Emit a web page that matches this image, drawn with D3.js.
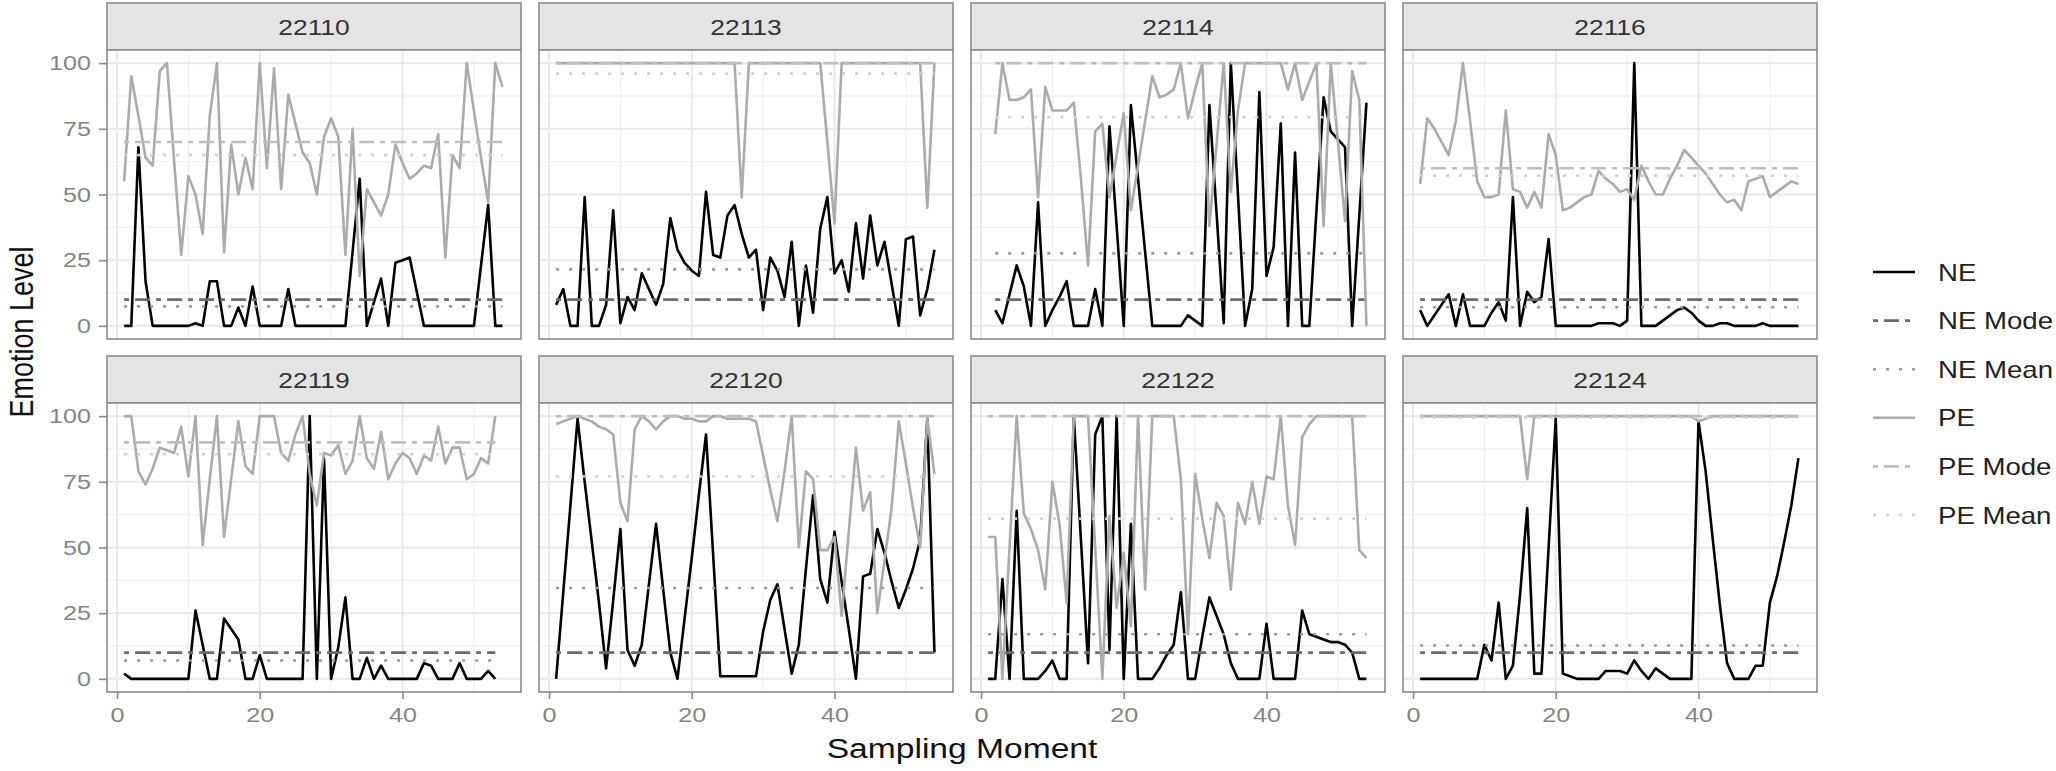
<!DOCTYPE html>
<html>
<head>
<meta charset="utf-8">
<script src="https://cdn.jsdelivr.net/npm/d3@7"></script>
<style>
  body { margin: 0; background: #fff; }
  text { font-family: "Liberation Sans", Arial, sans-serif; }
</style>
</head>
<body>
<script>
// facets (participants)
let participants = ["22110", "22113", "22114", "22116", "22119", "22120", "22122", "22124"];
let moments = [1,2,3,4,5,6,7,8,9,10,11,12,13,14,15,16,17,18,19,20,21,22,23,24,25,26,27,
  28,29,30,31,32,33,34,35,36,37,38,39,40,41,42,43,44,45,46,47,48,49,50,51,52,53,54];

// negative emotion (NE), one array per participant, null = no answer
let ne22110 = [0,0,68,17,0,0,0,0,0,0, 1,0,17,17,0,0,7,0,15,0, 0,0,0,14,0,0,0,0,0,0, 0,0,28,56,0,9,18,0,24,25, 26,13,0,0,0,0,0,0,0,0, 23,46,0,0];
let ne22113 = [8,14,0,0,49,0,0,8,44,1, 11,6,20,14,8,16,41,29,24,21, 19,51,27,26,42,46,35,26,29,6, 26,21,11,32,0,23,5,37,49,20, 25,13,39,18,42,23,32,16,0,33, 34,4,14,29];
let ne22114 = [null,6,1,12,23,15,0,47,0,6, 11,17,0,0,0,14,0,76,38,0, 84,56,28,0,0,0,0,0,4,2, 0,84,43,1,100,50,0,14,89,19, 30,77,0,66,0,0,44,87,74,71, 68,0,42,85];
let ne22116 = [6,0,4,8,12,0,12,0,0,0, 5,9,2,49,0,13,9,11,33,0, 0,0,0,0,0,1,1,1,0,2, 100,0,0,0,2,4,6,7,5,2, 0,0,1,1,0,0,0,0,1,0, 0,0,0,0];
let ne22119 = [2,0,0,0,0,0,0,0,0,0, 26,13,0,0,23,19,15,0,0,9, 0,0,0,0,0,0,100,0,84,0, 12,31,0,0,8,0,5,0,0,0, 0,0,6,5,0,0,0,6,0,0, 0,3,0,null];
let ne22120 = [0,33,66,99,75,52,29,4,30,57, 11,5,13,36,59,34,10,0,23,46, 70,93,47,1,1,1,1,1,1,18, 30,36,19,2,13,42,70,38,29,56, 37,19,0,39,40,57,48,37,27,34, 42,53,99,10];
let ne22122 = [0,0,38,0,64,0,0,0,3,7, 0,0,100,53,6,93,100,11,100,0, 59,0,0,0,4,9,13,33,0,0, 16,31,24,17,6,0,0,0,0,21, 0,0,0,0,26,17,16,15,14,14, 13,10,0,0];
let ne22124 = [0,0,0,0,0,0,0,0,0,13, 7,29,0,5,32,65,2,2,50,99, 2,1,0,0,0,0,3,3,3,2, 7,3,0,4,2,0,0,0,0,98, 79,53,28,6,0,0,0,5,5,29, 39,52,66,84];

// positive emotion (PE)
let pe22110 = [55,95,80,64,61,97,100,63,27,57, 50,35,80,100,28,69,50,64,52,100, 60,98,52,88,77,66,62,50,72,79, 72,27,75,19,52,47,42,50,69,62, 56,58,61,60,73,26,65,60,100,82, 64,47,100,91];
let pe22113 = [100,100,100,100,100,100,100,100,100,100, 100,100,100,100,100,100,100,100,100,100, 100,100,100,100,100,100,49,100,100,100, 100,100,100,100,100,100,100,100,70,39, 100,100,100,100,100,100,100,100,100,100, 100,100,45,100];
let pe22114 = [null,73,100,86,86,87,90,49,91,82, 82,82,85,56,23,74,77,49,65,81, 44,61,78,95,87,88,90,100,79,90, 100,38,69,100,51,82,100,100,100,100, 100,100,90,100,86,93,100,38,100,70, 40,97,86,0];
let pe22116 = [54,79,75,70,65,78,100,78,55,49, 49,50,82,52,51,45,51,45,73,65, 44,45,47,49,50,59,56,54,51,52, 48,61,55,50,50,56,61,67,64,61, 58,54,50,47,48,44,55,56,57,49, 51,53,55,54];
let pe22119 = [100,100,79,74,80,88,87,86,96,77, 100,51,76,100,54,76,98,81,78,100, 100,100,86,83,93,100,78,66,86,85, 89,78,83,100,84,80,94,76,82,86, 84,78,85,83,96,82,88,88,76,78, 84,82,100,null];
let pe22120 = [97,98,99,100,99,98,96,95,93,67, 60,95,100,98,95,98,100,100,99,99, 98,98,100,100,99,99,99,99,98,85, 72,60,79,100,50,79,76,49,49,54, 24,56,88,64,71,25,45,65,98,82, 65,50,99,78];
let pe22122 = [54,54,0,50,100,63,57,49,34,75, 59,29,100,100,100,50,0,62,27,48, 20,100,34,100,100,100,100,76,17,78, 61,46,67,62,34,67,59,75,59,77, 76,100,66,51,92,97,100,100,100,100, 100,100,49,46];
let pe22124 = [100,100,100,100,100,100,100,100,100,100, 100,100,100,100,100,76,100,100,100,100, 100,100,100,100,100,100,100,100,100,100, 100,100,100,100,100,100,100,100,100,98, 99,100,100,100,100,100,100,100,100,100, 100,100,100,100];

// per participant reference levels (same order as participants)
let neMode = [10, 10, 10, 10, 10, 10, 10, 10];
let neMean = [7.4, 21.5, 27.6, 7.1, 7, 34.6, 17, 12.7];
let peMode = [70, 100, 100, 60, 90, 100, 100, 100];
let peMean = [65, 96, 79.4, 57.2, 85.5, 77, 61, 99.5];

let xTicks = [0, 20, 40];
let yTicks = [0, 25, 50, 75, 100];
let seriesNames = ["NE", "NE Mode", "NE Mean", "PE", "PE Mode", "PE Mean"];

let neSeries = [ne22110, ne22113, ne22114, ne22116, ne22119, ne22120, ne22122, ne22124];
let peSeries = [pe22110, pe22113, pe22114, pe22116, pe22119, pe22120, pe22122, pe22124];

// line looks for the six series
let looks = {
  "NE":      {color: "#000000", dash: null,         width: 2.6},
  "NE Mode": {color: "#6a6a6a", dash: "5,6,15,6",   width: 2.6},
  "NE Mean": {color: "#9a9a9a", dash: "3,10",       width: 2.6},
  "PE":      {color: "#ababab", dash: null,         width: 2.6},
  "PE Mode": {color: "#bebebe", dash: "5,6,15,6",   width: 2.6},
  "PE Mean": {color: "#d0d0d0", dash: "3,10",       width: 2.6}
};

// the picture is a little wider than tall, text included
let stretch = 1.2;

// layout
let W = 2056, H = 771;
let panelLeft0 = 107, panelStep = 432, pw = 414;
let rowTop0 = 3, rowStep = 353, stripH = 47, ph = 289;

let svg = d3.select("body").append("svg")
    .attr("width", W)
    .attr("height", H);

let x = d3.scaleLinear().domain([-1.4, 56.6]).range([0, pw]);
let y = d3.scaleLinear().domain([-5, 105]).range([ph, 0]);

let line = d3.line()
    .defined(d => d.v != null)
    .x(d => x(d.m))
    .y(d => y(d.v));

function styleLine(sel, name) {
  let lk = looks[name];
  sel.attr("fill", "none")
     .attr("stroke", lk.color)
     .attr("stroke-width", lk.width)
     .attr("stroke-linejoin", "round")
     .attr("stroke-dasharray", lk.dash);
}

// put a stretched text at (tx, ty)
function label(parent, tx, ty, str, size, anchor, color) {
  return parent.append("g")
      .attr("transform", "translate(" + tx + "," + ty + ") scale(" + stretch + ",1)")
    .append("text")
      .attr("text-anchor", anchor)
      .attr("font-size", size)
      .attr("fill", color)
      .text(str);
}

function styleAxis(ax) {
  ax.select(".domain").remove();
  ax.selectAll("line").attr("stroke", "#8a8a8a").attr("stroke-width", 1.6);
  ax.selectAll("text").each(function() {
    let t = d3.select(this);
    let tx = +t.attr("x") || 0;
    t.attr("x", 0)
     .attr("transform", "translate(" + tx + ",0) scale(" + stretch + ",1)")
     .attr("font-size", 21)
     .attr("fill", "#858585")
     .style("font-family", "'Liberation Sans', Arial, sans-serif");
  });
}

participants.forEach((p, i) => {
  let col = i % 4, row = Math.floor(i / 4);
  let left = panelLeft0 + col * panelStep;
  let top = rowTop0 + row * rowStep;

  let g = svg.append("g").attr("transform", "translate(" + left + "," + top + ")");

  // strip
  g.append("rect")
      .attr("x", 0).attr("y", 0)
      .attr("width", pw).attr("height", stripH)
      .attr("fill", "#e4e4e4")
      .attr("stroke", "#8c8c8c")
      .attr("stroke-width", 1.6);
  label(g, pw / 2, stripH / 2 + 8, p, 22, "middle", "#333");

  let pg = g.append("g").attr("transform", "translate(0," + stripH + ")");

  pg.append("rect")
      .attr("width", pw).attr("height", ph)
      .attr("fill", "#fff");

  // grid: minor first, then major
  let xMinor = [10, 30, 50], yMinor = [12.5, 37.5, 62.5, 87.5];
  pg.selectAll(".gxm").data(xMinor).enter().append("line")
      .attr("x1", d => x(d)).attr("x2", d => x(d))
      .attr("y1", 0).attr("y2", ph)
      .attr("stroke", "#f1f1f1").attr("stroke-width", 1.3);
  pg.selectAll(".gym").data(yMinor).enter().append("line")
      .attr("x1", 0).attr("x2", pw)
      .attr("y1", d => y(d)).attr("y2", d => y(d))
      .attr("stroke", "#f1f1f1").attr("stroke-width", 1.3);
  pg.selectAll(".gx").data(xTicks).enter().append("line")
      .attr("x1", d => x(d)).attr("x2", d => x(d))
      .attr("y1", 0).attr("y2", ph)
      .attr("stroke", "#e8e8e8").attr("stroke-width", 2);
  pg.selectAll(".gy").data(yTicks).enter().append("line")
      .attr("x1", 0).attr("x2", pw)
      .attr("y1", d => y(d)).attr("y2", d => y(d))
      .attr("stroke", "#e8e8e8").attr("stroke-width", 2);

  let ne = moments.map((m, k) => ({m: m, v: neSeries[i][k]}));
  let pe = moments.map((m, k) => ({m: m, v: peSeries[i][k]}));
  let present = moments.filter((m, k) => neSeries[i][k] != null);
  let m0 = d3.min(present), m1 = d3.max(present);
  let flat = v => [{m: m0, v: v}, {m: m1, v: v}];

  pg.append("path").datum(ne).attr("d", line).call(styleLine, "NE");
  pg.append("path").datum(flat(neMode[i])).attr("d", line).call(styleLine, "NE Mode");
  pg.append("path").datum(flat(neMean[i])).attr("d", line).call(styleLine, "NE Mean");
  pg.append("path").datum(pe).attr("d", line).call(styleLine, "PE");
  pg.append("path").datum(flat(peMode[i])).attr("d", line).call(styleLine, "PE Mode");
  pg.append("path").datum(flat(peMean[i])).attr("d", line).call(styleLine, "PE Mean");

  // border
  pg.append("rect")
      .attr("width", pw).attr("height", ph)
      .attr("fill", "none")
      .attr("stroke", "#8c8c8c")
      .attr("stroke-width", 1.6);

  // axes
  if (col === 0) {
    pg.append("g")
        .call(d3.axisLeft(y).tickValues(yTicks).tickSize(8).tickPadding(8))
        .call(styleAxis);
  }
  if (row === 1) {
    pg.append("g").attr("transform", "translate(0," + ph + ")")
        .call(d3.axisBottom(x).tickValues(xTicks).tickSize(7).tickPadding(8))
        .call(styleAxis);
  }
});

// axis titles
label(svg, 962, 758, "Sampling Moment", 28, "middle", "#111");

svg.append("text")
    .attr("transform", "translate(33,332) rotate(-90) scale(1," + stretch + ")")
    .attr("text-anchor", "middle")
    .attr("font-size", 27)
    .attr("fill", "#111")
    .text("Emotion Level");

// legend
let legend = svg.append("g").attr("transform", "translate(1873,272)");
let key = legend.selectAll(".key").data(seriesNames).enter().append("g")
    .attr("transform", (d, k) => "translate(0," + (k * 48.6) + ")");
key.append("line")
    .attr("x1", 0).attr("x2", 42)
    .attr("y1", 0).attr("y2", 0)
    .each(function(d) { d3.select(this).call(styleLine, d); });
key.each(function(d) { label(d3.select(this), 65, 8.5, d, 23, "start", "#222"); });
</script>
</body>
</html>
